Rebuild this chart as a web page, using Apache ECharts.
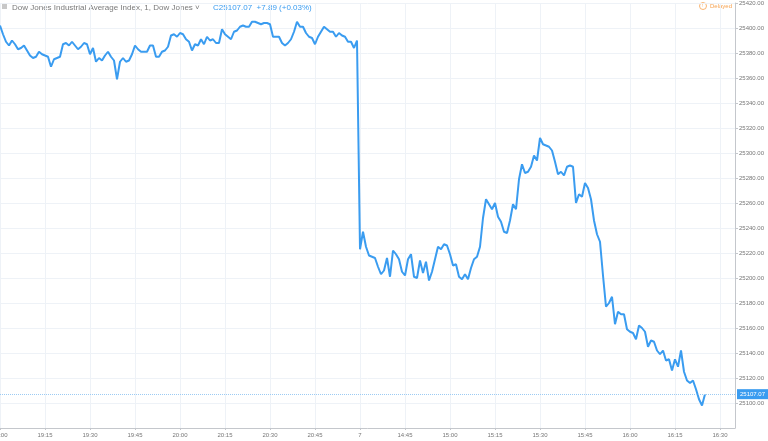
<!DOCTYPE html>
<html>
<head>
<meta charset="utf-8">
<script src="https://cdn.jsdelivr.net/npm/echarts@6/dist/echarts.min.js"></script>
<style>
  html, body { margin: 0; padding: 0; background: #fff; }
  #chart { width: 768px; height: 441px; }
</style>
</head>
<body>
<div id="chart"></div>
<script>
// Dow Jones 1-minute line, two sessions (day 6 evening + day 7)

const day6Start = '19:00';
const day7Start = '14:30';
const day7Label = '7';
const emptyMinutesAfter = 10;

const day6Values = [
    25402, 25395, 25389, 25386, 25390, 25387, 25383, 25384, 25386, 25382,
    25378, 25376, 25377, 25381, 25379, 25378, 25377, 25369, 25375, 25376,
    25377, 25387, 25388, 25386, 25389, 25386, 25383, 25385, 25388, 25387,
    25379, 25384, 25373, 25376, 25374, 25378, 25381, 25377, 25374, 25359,
    25373, 25376, 25373, 25374, 25379, 25386, 25383, 25381, 25381, 25381,
    25386, 25386, 25377, 25377, 25381, 25382, 25385, 25394, 25395, 25393,
    25396, 25395, 25391, 25389, 25382, 25387, 25386, 25391, 25387, 25393,
    25390, 25391, 25388, 25388, 25399, 25395, 25393, 25391, 25397, 25398,
    25401, 25402, 25401, 25401, 25405, 25405, 25404, 25403, 25404, 25404,
    25403, 25393, 25393, 25393, 25388, 25386, 25388, 25391, 25397, 25405,
    25401, 25401, 25396, 25393, 25392, 25387, 25393, 25397, 25401, 25399,
    25397, 25397, 25393, 25396, 25394, 25393, 25389, 25389, 25384, 25390
];

const day7Values = [
    25223, 25237, 25225, 25218, 25217, 25216, 25209, 25203, 25206, 25216,
    25201, 25222, 25219, 25215, 25205, 25202, 25215, 25219, 25201, 25200,
    25214, 25204, 25213, 25198, 25205, 25215, 25225, 25223, 25227, 25226,
    25219, 25210, 25211, 25201, 25199, 25203, 25199, 25208, 25215, 25217,
    25225, 25248, 25263, 25259, 25255, 25260, 25249, 25245, 25237, 25236,
    25246, 25259, 25255, 25279, 25291, 25284, 25285, 25289, 25298, 25294,
    25312, 25307, 25306, 25305, 25302, 25293, 25283, 25285, 25282, 25289,
    25290, 25289, 25260, 25267, 25265, 25276, 25272, 25263, 25246, 25235,
    25229, 25202, 25177, 25180, 25185, 25163, 25173, 25171, 25171, 25159,
    25157, 25156, 25151, 25162, 25160, 25157, 25145, 25150, 25149, 25142,
    25139, 25142, 25134, 25135, 25126, 25135, 25129, 25142, 25125, 25118,
    25116, 25118, 25111, 25103, 25098, 25107.07
];

const yTicksMin = 25080;
const yTicksMax = 25420;
const yStep = 20;

function minuteLabels(start, count) {
    const [h, m] = start.split(':').map(Number);
    const out = [];
    for (let i = 0; i < count; i++) {
        const t = h * 60 + m + i;
        const hh = String(Math.floor(t / 60)).padStart(2, '0');
        const mm = String(t % 60).padStart(2, '0');
        out.push(hh + ':' + mm);
    }
    return out;
}

const times = minuteLabels(day6Start, day6Values.length)
    .concat(minuteLabels(day7Start, day7Values.length + emptyMinutesAfter));
const values = day6Values.concat(day7Values);
const lastValue = day7Values[day7Values.length - 1];

const blue = '#3a9cf0';
const everyQuarter = (i) => i % 15 === 0;

const chart = echarts.init(document.getElementById('chart'));
chart.setOption({
    animation: false,
    backgroundColor: '#fff',
    grid: { left: 0, right: 33, top: 3, bottom: 13, containLabel: false, outerBoundsMode: 'none' },
    xAxis: {
        type: 'category',
        data: times,
        boundaryGap: false,
        axisLine: { lineStyle: { color: '#c4c7cc' } },
        axisTick: { show: true, interval: everyQuarter, length: 2, lineStyle: { color: '#c4c7cc' } },
        axisLabel: {
            interval: everyQuarter,
            margin: 4,
            fontSize: 6,
            color: '#777',
            fontFamily: 'Liberation Sans',
            formatter: (v) => v === day7Start ? day7Label : v
        },
        splitLine: { show: true, interval: everyQuarter, lineStyle: { color: '#eef2f7' } }
    },
    yAxis: {
        type: 'value',
        position: 'right',
        min: yTicksMin,
        max: yTicksMax,
        interval: yStep,
        axisLine: { show: true, lineStyle: { color: '#c4c7cc' } },
        axisTick: { show: true, length: 3, lineStyle: { color: '#c4c7cc' } },
        axisLabel: {
            margin: 4,
            fontSize: 6,
            color: '#777',
            fontFamily: 'Liberation Sans',
            showMinLabel: false,
            formatter: (v) => v.toFixed(2)
        },
        splitLine: { show: true, lineStyle: { color: '#eef2f7' } }
    },
    graphic: [
        { type: 'rect', left: 2, top: 3, shape: { width: 5, height: 6 }, style: { fill: '#c8c8c8' } },
        {
            type: 'text', left: 12, top: 4,
            style: { text: 'Dow Jones Industrial Average Index, 1, Dow Jones ˅', fill: '#7a7a7a', fontSize: 8, fontFamily: 'Liberation Sans' }
        },
        {
            type: 'text', left: 213, top: 4,
            style: { text: 'C25107.07  +7.89 (+0.03%)', fill: blue, fontSize: 8, fontFamily: 'Liberation Sans' }
        },
        { type: 'circle', shape: { cx: 703, cy: 6, r: 3.5 }, style: { fill: 'none', stroke: '#f7a24f', lineWidth: 0.8 } },
        {
            type: 'text', left: 702, top: 3,
            style: { text: '!', fill: '#f7a24f', fontSize: 5, fontFamily: 'Liberation Sans' }
        },
        {
            type: 'text', left: 710, top: 3,
            style: { text: 'Delayed', fill: '#f7a24f', fontSize: 6, fontFamily: 'Liberation Sans' }
        }
    ],
    series: [{
        type: 'line',
        data: values,
        showSymbol: false,
        lineStyle: { color: blue, width: 2 },
        itemStyle: { color: blue },
        markLine: {
            silent: true,
            symbol: 'none',
            lineStyle: { color: '#9ccbf3', type: 'dotted', width: 1 },
            label: {
                position: 'end',
                distance: 2,
                formatter: () => lastValue.toFixed(2),
                color: '#fff',
                backgroundColor: blue,
                fontSize: 6,
                fontFamily: 'Liberation Sans',
                padding: [2, 3]
            },
            data: [{ yAxis: lastValue }]
        }
    }]
});
window.addEventListener('resize', () => chart.resize());
</script>
</body>
</html>
